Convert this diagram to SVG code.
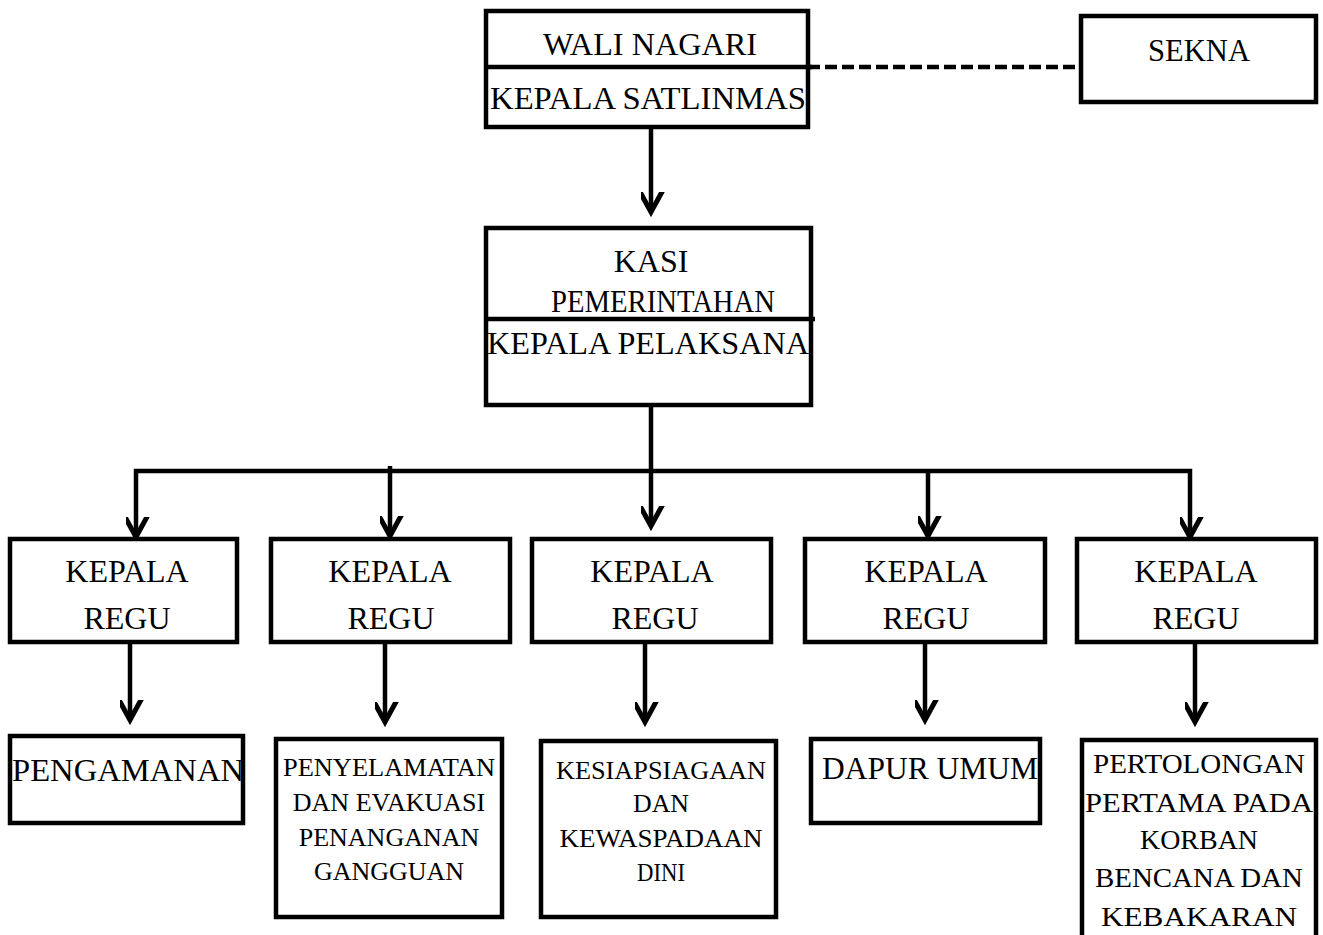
<svg xmlns="http://www.w3.org/2000/svg" width="1323" height="935" viewBox="0 0 1323 935">
<style>
.box{fill:#fff;stroke:#000;stroke-width:4.5}
.ln{fill:none;stroke:#000;stroke-width:4.5}
.t{font-family:"Liberation Serif","Times New Roman",Times,serif;fill:#000;text-anchor:middle}
.big{font-size:32px}
.mid{font-size:28px}
.sm{font-size:26px}
</style>
<defs>
<marker id="ah" markerUnits="userSpaceOnUse" markerWidth="40" markerHeight="40" viewBox="-20 -30 40 40" refX="0" refY="0" orient="auto-start-reverse">
<path d="M-12,-22 L0,0 L12,-22" fill="none" stroke="#000" stroke-width="5" transform="rotate(-90)"/>
</marker>
</defs>
<g id="connectors">
<line class="ln" x1="808" y1="67" x2="1080" y2="67" stroke-dasharray="12,5"/>
<line class="ln" x1="651" y1="127" x2="651" y2="212" marker-end="url(#ah)"/>
<line class="ln" x1="651" y1="405" x2="651" y2="526" marker-end="url(#ah)"/>
<polyline class="ln" points="136,537 136,471 1190,471 1190,537" marker-start="url(#ah)" marker-end="url(#ah)"/>
<line class="ln" x1="390" y1="466" x2="390" y2="536" marker-end="url(#ah)"/>
<line class="ln" x1="928" y1="471" x2="928" y2="536" marker-end="url(#ah)"/>
<line class="ln" x1="130" y1="641" x2="130" y2="720" marker-end="url(#ah)"/>
<line class="ln" x1="385" y1="641" x2="385" y2="722" marker-end="url(#ah)"/>
<line class="ln" x1="645" y1="641" x2="645" y2="722" marker-end="url(#ah)"/>
<line class="ln" x1="925" y1="641" x2="925" y2="720" marker-end="url(#ah)"/>
<line class="ln" x1="1195" y1="641" x2="1195" y2="722" marker-end="url(#ah)"/>
</g>
<g id="wali-nagari">
<rect class="box" x="486" y="11" width="322" height="116"/>
<line class="ln" x1="484" y1="67" x2="812" y2="67" stroke-width="5"/>
<text class="t big" x="650" y="55" textLength="214" lengthAdjust="spacingAndGlyphs">WALI NAGARI</text>
<text class="t big" x="648" y="109" textLength="316" lengthAdjust="spacingAndGlyphs">KEPALA SATLINMAS</text>
</g>
<g id="sekna">
<rect class="box" x="1081" y="16" width="235" height="86"/>
<text class="t big" x="1199" y="61" textLength="102" lengthAdjust="spacingAndGlyphs">SEKNA</text>
</g>
<g id="kasi">
<rect class="box" x="486" y="228" width="325" height="177"/>
<line class="ln" x1="486" y1="319" x2="815" y2="319" stroke-width="5"/>
<text class="t big" x="651" y="272">KASI</text>
<text class="t big" x="663" y="312" textLength="224" lengthAdjust="spacingAndGlyphs">PEMERINTAHAN</text>
<text class="t big" x="648" y="354" textLength="322" lengthAdjust="spacingAndGlyphs">KEPALA PELAKSANA</text>
</g>
<g id="regu1">
<rect class="box" x="10" y="539" width="227" height="103"/>
<text class="t big" x="127" y="582">KEPALA</text>
<text class="t big" x="127" y="629">REGU</text>
</g>
<g id="regu2">
<rect class="box" x="271" y="539" width="239" height="103"/>
<text class="t big" x="390" y="582">KEPALA</text>
<text class="t big" x="391" y="629">REGU</text>
</g>
<g id="regu3">
<rect class="box" x="532" y="539" width="239" height="103"/>
<text class="t big" x="652" y="582">KEPALA</text>
<text class="t big" x="655" y="629">REGU</text>
</g>
<g id="regu4">
<rect class="box" x="805" y="539" width="240" height="103"/>
<text class="t big" x="926" y="582">KEPALA</text>
<text class="t big" x="926" y="629">REGU</text>
</g>
<g id="regu5">
<rect class="box" x="1077" y="539" width="239" height="103"/>
<text class="t big" x="1196" y="582">KEPALA</text>
<text class="t big" x="1196" y="629">REGU</text>
</g>
<g id="pengamanan">
<rect class="box" x="10" y="736" width="233" height="87"/>
<text class="t big" x="128" y="781" textLength="232" lengthAdjust="spacingAndGlyphs">PENGAMANAN</text>
</g>
<g id="penyelamatan">
<rect class="box" x="276" y="739" width="226" height="178"/>
<text class="t sm" x="389" y="776" textLength="212" lengthAdjust="spacingAndGlyphs">PENYELAMATAN</text>
<text class="t sm" x="389" y="811">DAN EVAKUASI</text>
<text class="t sm" x="389" y="846">PENANGANAN</text>
<text class="t sm" x="389" y="880">GANGGUAN</text>
</g>
<g id="kesiapsiagaan">
<rect class="box" x="541" y="741" width="235" height="176"/>
<text class="t sm" x="661" y="779" textLength="210" lengthAdjust="spacingAndGlyphs">KESIAPSIAGAAN</text>
<text class="t sm" x="661" y="812" textLength="56" lengthAdjust="spacingAndGlyphs">DAN</text>
<text class="t sm" x="661" y="847" textLength="203" lengthAdjust="spacingAndGlyphs">KEWASPADAAN</text>
<text class="t sm" x="661" y="881" textLength="48" lengthAdjust="spacingAndGlyphs">DINI</text>
</g>
<g id="dapur-umum">
<rect class="box" x="811" y="739" width="229" height="84"/>
<text class="t big" x="930" y="779" textLength="216" lengthAdjust="spacingAndGlyphs">DAPUR UMUM</text>
</g>
<g id="pertolongan">
<rect class="box" x="1082" y="740" width="234" height="200"/>
<text class="t mid" x="1199" y="773" textLength="212" lengthAdjust="spacingAndGlyphs">PERTOLONGAN</text>
<text class="t mid" x="1199" y="812" textLength="228" lengthAdjust="spacingAndGlyphs">PERTAMA PADA</text>
<text class="t mid" x="1199" y="849" textLength="118" lengthAdjust="spacingAndGlyphs">KORBAN</text>
<text class="t mid" x="1199" y="887" textLength="208" lengthAdjust="spacingAndGlyphs">BENCANA DAN</text>
<text class="t mid" x="1199" y="926" textLength="196" lengthAdjust="spacingAndGlyphs">KEBAKARAN</text>
</g>
</svg>
